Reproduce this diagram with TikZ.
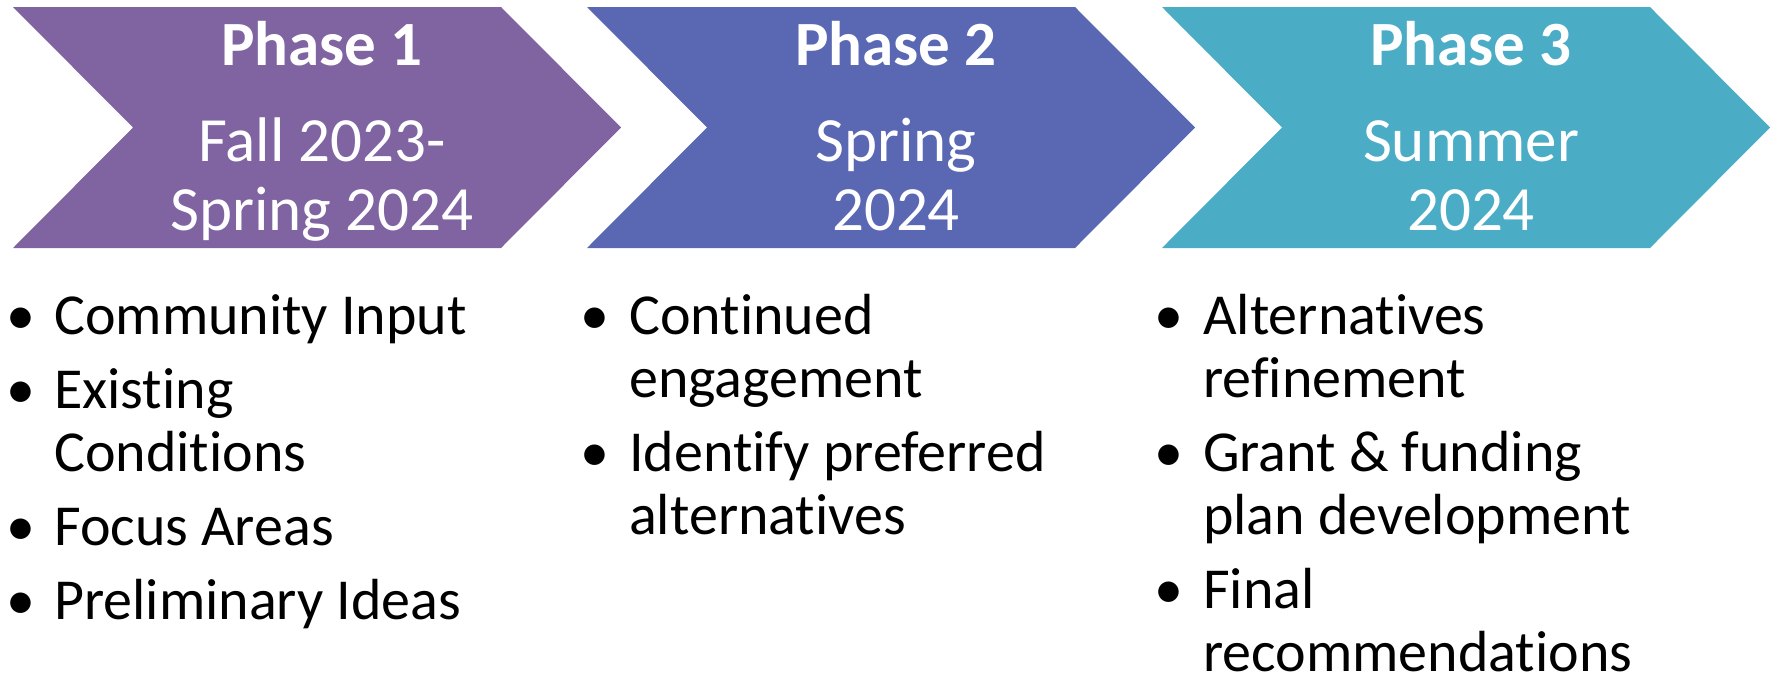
\documentclass[tikz,border=0pt]{standalone}
\usepackage{fontspec}
\setmainfont{Carlito}[Ligatures=NoCommon]
\definecolor{phaseA}{RGB}{128,100,162}
\definecolor{phaseB}{RGB}{90,104,180}
\definecolor{phaseC}{RGB}{75,172,198}
\tikzset{
  head/.style={text=white, inner sep=0, anchor=base, align=center, font=\fontsize{63}{69}\selectfont},
  item/.style={inner sep=0, anchor=base west, align=left, font=\fontsize{58}{63}\selectfont},
  dot/.style={inner sep=0, anchor=base, font=\fontsize{58}{63}\selectfont}
}

\begin{document}
\begin{tikzpicture}[x=1pt,y=-1pt]
\useasboundingbox (0,0) rectangle (1777,678);
% the three chevrons
\foreach \x/\c in {13/phaseA,587/phaseB,1162/phaseC}{
\fill[\c] (\x,7) -- ++(488,0) -- ++(120,120.5) -- ++(-120,120.5) -- ++(-488,0) -- ++(120,-120.5) -- cycle;}
% headings (two-line nodes sit on their last baseline)
\node[head] (p1) at (322,65) {\bfseries Phase 1};
\node[head] (d1) at (322,230) {Fall 2023-\\Spring 2024};
\node[head] (p2) at (896,65) {\bfseries Phase 2};
\node[head] (d2) at (896,230) {Spring\\2024};
\node[head] (p3) at (1471,65) {\bfseries Phase 3};
\node[head] (d3) at (1471,230) {Summer\\2024};
% phase 1 tasks
\node[dot] (b11) at (21,334) {•};
\node[item] (t11) at (54,334) {Community Input};
\node[dot] (b12) at (21,408) {•};
\node[item] (t12) at (54,471) {Existing\\Conditions};
\node[dot] (b13) at (21,545) {•};
\node[item] (t13) at (54,545) {Focus Areas};
\node[dot] (b14) at (21,619) {•};
\node[item] (t14) at (54,619) {Preliminary Ideas};
% phase 2 tasks
\node[dot] (b21) at (595,334) {•};
\node[item] (t21) at (629,397) {Continued\\engagement};
\node[dot] (b22) at (595,471) {•};
\node[item] (t22) at (629,534) {Identify preferred\\alternatives};
% phase 3 tasks
\node[dot] (b31) at (1169,334) {•};
\node[item] (t31) at (1203,397) {Alternatives\\refinement};
\node[dot] (b32) at (1169,471) {•};
\node[item] (t32) at (1203,534) {Grant \& funding\\plan development};
\node[dot] (b33) at (1169,608) {•};
\node[item] (t33) at (1203,671) {Final\\recommendations};
\end{tikzpicture}
\end{document}
